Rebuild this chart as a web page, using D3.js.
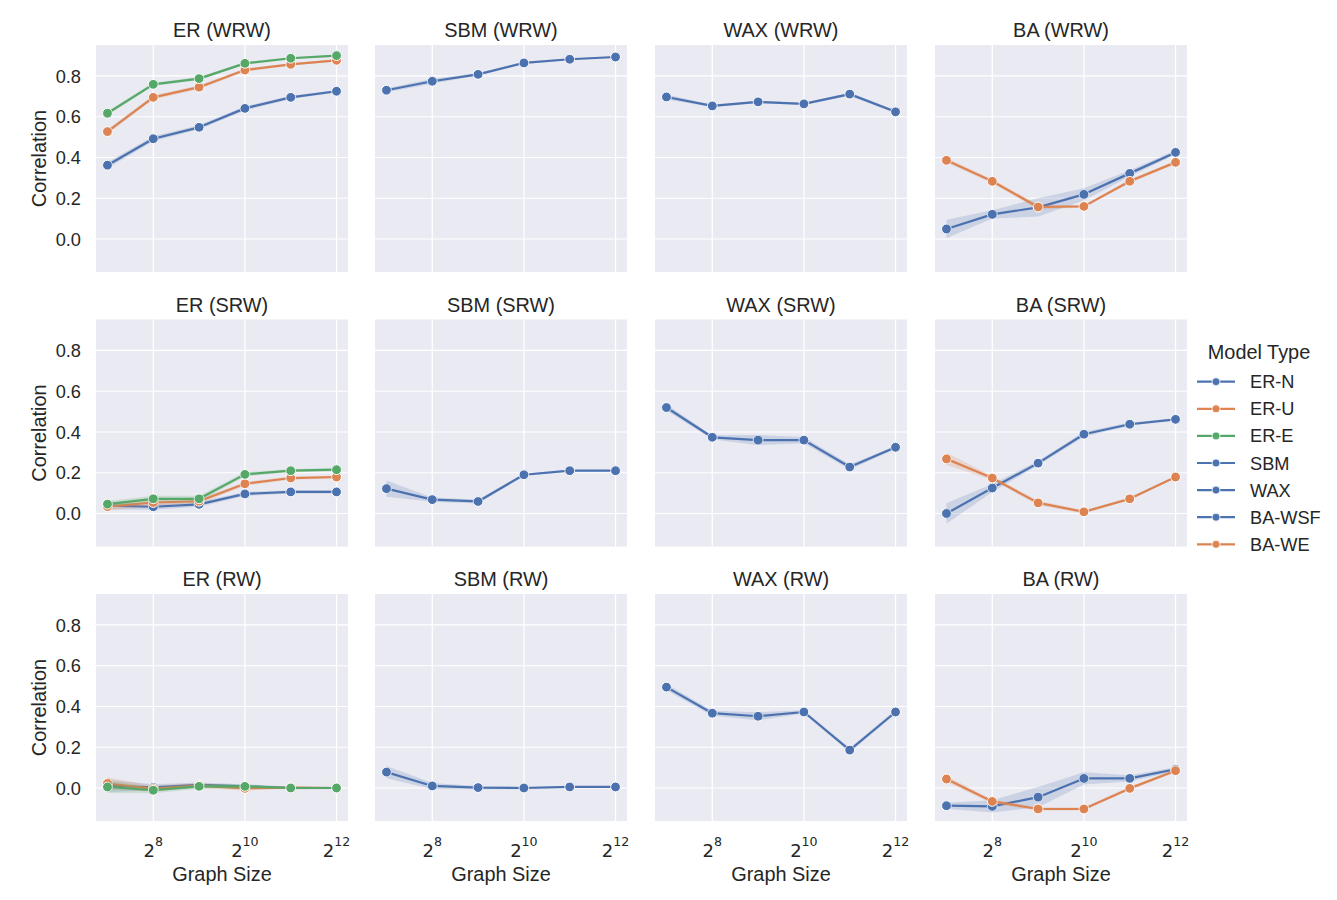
<!DOCTYPE html>
<html>
<head>
<meta charset="utf-8">
<script src="https://cdn.jsdelivr.net/npm/d3@7"></script>
<style>
  body { margin: 0; background: #ffffff; }
  svg { display: block; }
  text { font-family: "Liberation Sans", Arial, sans-serif; fill: #262626; }
</style>
</head>
<body>
<svg id="chart" width="1337" height="900"></svg>
<script>
// Graph sizes (x axis, log base 2)
const sizes = [128, 256, 512, 1024, 2048, 4096];
const walks = ['WRW', 'SRW', 'RW'];
const families = ['ER', 'SBM', 'WAX', 'BA'];
const yTicks = [0.0, 0.2, 0.4, 0.6, 0.8];
const xTickExps = [8, 10, 12];

// Mean correlation per model, one array per walk type
const erN = {
  WRW: [0.362, 0.492, 0.548, 0.641, 0.695, 0.725],
  SRW: [0.039, 0.033, 0.045, 0.096, 0.106, 0.106],
  RW:  [0.010, 0.003, 0.015, 0.008, 0.000, 0.000]
};
const erU = {
  WRW: [0.527, 0.695, 0.745, 0.829, 0.857, 0.877],
  SRW: [0.034, 0.054, 0.060, 0.146, 0.174, 0.179],
  RW:  [0.022, -0.004, 0.012, -0.002, 0.002, 0.000]
};
const erE = {
  WRW: [0.617, 0.759, 0.787, 0.862, 0.887, 0.900],
  SRW: [0.046, 0.072, 0.072, 0.192, 0.210, 0.215],
  RW:  [0.005, -0.011, 0.008, 0.008, 0.000, 0.000]
};
const sbm = {
  WRW: [0.730, 0.774, 0.808, 0.864, 0.882, 0.893],
  SRW: [0.122, 0.068, 0.059, 0.190, 0.210, 0.210],
  RW:  [0.078, 0.010, 0.002, 0.000, 0.005, 0.005]
};
const wax = {
  WRW: [0.697, 0.653, 0.673, 0.663, 0.711, 0.624],
  SRW: [0.520, 0.374, 0.360, 0.360, 0.228, 0.325],
  RW:  [0.495, 0.367, 0.352, 0.373, 0.186, 0.373]
};
const baWSF = {
  WRW: [0.049, 0.121, 0.155, 0.219, 0.322, 0.425],
  SRW: [0.000, 0.125, 0.247, 0.389, 0.438, 0.462],
  RW:  [-0.087, -0.090, -0.045, 0.047, 0.047, 0.092]
};
const baWE = {
  WRW: [0.386, 0.283, 0.157, 0.160, 0.283, 0.376],
  SRW: [0.268, 0.174, 0.052, 0.008, 0.072, 0.179],
  RW:  [0.044, -0.066, -0.103, -0.103, -0.002, 0.085]
};

// Half-width of the 95% confidence band
const erNci = {
  WRW: [0.015, 0.012, 0.010, 0.010, 0.008, 0.006],
  SRW: [0.020, 0.015, 0.012, 0.010, 0.008, 0.008],
  RW:  [0.030, 0.015, 0.012, 0.010, 0.006, 0.005]
};
const erUci = {
  WRW: [0.012, 0.010, 0.010, 0.008, 0.006, 0.005],
  SRW: [0.020, 0.015, 0.012, 0.010, 0.008, 0.008],
  RW:  [0.030, 0.015, 0.012, 0.010, 0.006, 0.005]
};
const erEci = {
  WRW: [0.010, 0.008, 0.008, 0.006, 0.005, 0.004],
  SRW: [0.015, 0.015, 0.015, 0.010, 0.008, 0.008],
  RW:  [0.030, 0.015, 0.012, 0.010, 0.006, 0.005]
};
const sbmCi = {
  WRW: [0.010, 0.012, 0.006, 0.005, 0.004, 0.004],
  SRW: [0.040, 0.010, 0.010, 0.006, 0.004, 0.004],
  RW:  [0.030, 0.015, 0.008, 0.006, 0.004, 0.004]
};
const waxCi = {
  WRW: [0.012, 0.006, 0.006, 0.006, 0.008, 0.008],
  SRW: [0.015, 0.010, 0.025, 0.015, 0.012, 0.008],
  RW:  [0.015, 0.012, 0.020, 0.008, 0.010, 0.010]
};
const baWSFci = {
  WRW: [0.045, 0.020, 0.045, 0.030, 0.015, 0.010],
  SRW: [0.050, 0.020, 0.010, 0.012, 0.008, 0.006],
  RW:  [0.015, 0.030, 0.050, 0.030, 0.015, 0.010]
};
const baWEci = {
  WRW: [0.012, 0.010, 0.012, 0.006, 0.010, 0.008],
  SRW: [0.030, 0.010, 0.012, 0.008, 0.006, 0.006],
  RW:  [0.015, 0.010, 0.008, 0.008, 0.008, 0.008]
};

const BLUE = '#4c72b0', ORANGE = '#dd8452', GREEN = '#55a868';

// Legend order = hue order
const models = [
  { name: 'ER-N',   family: 'ER',  color: BLUE,   values: erN,   ci: erNci },
  { name: 'ER-U',   family: 'ER',  color: ORANGE, values: erU,   ci: erUci },
  { name: 'ER-E',   family: 'ER',  color: GREEN,  values: erE,   ci: erEci },
  { name: 'SBM',    family: 'SBM', color: BLUE,   values: sbm,   ci: sbmCi },
  { name: 'WAX',    family: 'WAX', color: BLUE,   values: wax,   ci: waxCi },
  { name: 'BA-WSF', family: 'BA',  color: BLUE,   values: baWSF, ci: baWSFci },
  { name: 'BA-WE',  family: 'BA',  color: ORANGE, values: baWE,  ci: baWEci }
];

// Facet layout
const panelW = 252, panelH = 227;
const panelLeft = [96, 375, 655, 935];
const panelTop = [45, 319.5, 594];
const titleSize = '19.9px', tickSize = '18.2px';

const svg = d3.select('#chart');

const x = d3.scaleLog().base(2)
  .domain([Math.pow(2, 6.75), Math.pow(2, 12.25)])
  .range([0, panelW]);
const y = d3.scaleLinear()
  .domain([-0.162, 0.952])
  .range([panelH, 0]);

const line = d3.line()
  .x((d, i) => x(sizes[i]))
  .y(d => y(d));

const band = d3.area()
  .x(d => x(d.size))
  .y0(d => y(d.lo))
  .y1(d => y(d.hi));

walks.forEach((walk, r) => {
  families.forEach((fam, c) => {
    const g = svg.append('g')
      .attr('transform', `translate(${panelLeft[c]},${panelTop[r]})`);

    // Panel background
    g.append('rect')
      .attr('width', panelW)
      .attr('height', panelH)
      .attr('fill', '#eaeaf2');

    // Grid
    g.selectAll('line.ygrid')
      .data(yTicks)
      .join('line')
      .attr('class', 'ygrid')
      .attr('x1', 0).attr('x2', panelW)
      .attr('y1', d => y(d)).attr('y2', d => y(d))
      .attr('stroke', '#ffffff')
      .attr('stroke-width', 1.2);

    g.selectAll('line.xgrid')
      .data(xTickExps)
      .join('line')
      .attr('class', 'xgrid')
      .attr('x1', d => x(Math.pow(2, d))).attr('x2', d => x(Math.pow(2, d)))
      .attr('y1', 0).attr('y2', panelH)
      .attr('stroke', '#ffffff')
      .attr('stroke-width', 1.2);

    // Title
    g.append('text')
      .attr('x', panelW / 2)
      .attr('y', -8)
      .attr('text-anchor', 'middle')
      .style('font-size', titleSize)
      .text(`${fam} (${walk})`);

    // Series: line + markers, then band, in hue order
    models.filter(m => m.family === fam).forEach(m => {
      const vals = m.values[walk];
      const ci = m.ci[walk];
      const bandData = vals.map((v, i) => ({ size: sizes[i], lo: v - ci[i], hi: v + ci[i] }));

      g.append('path')
        .attr('d', line(vals))
        .attr('fill', 'none')
        .attr('stroke', m.color)
        .attr('stroke-width', 2.2)
        .attr('stroke-linejoin', 'round')
        .attr('stroke-linecap', 'round');

      g.selectAll(null)
        .data(vals)
        .join('circle')
        .attr('cx', (d, i) => x(sizes[i]))
        .attr('cy', d => y(d))
        .attr('r', 4.9)
        .attr('fill', m.color)
        .attr('stroke', '#ffffff')
        .attr('stroke-width', 1);

      g.append('path')
        .attr('d', band(bandData))
        .attr('fill', m.color)
        .attr('fill-opacity', 0.2)
        .attr('stroke', 'none');
    });

    // Y tick labels on first column
    if (c === 0) {
      g.selectAll('text.ytick')
        .data(yTicks)
        .join('text')
        .attr('class', 'ytick')
        .attr('x', -15)
        .attr('y', d => y(d))
        .attr('dy', '0.36em')
        .attr('text-anchor', 'end')
        .style('font-size', tickSize)
        .text(d => d.toFixed(1));

      g.append('text')
        .attr('transform', `translate(${-50},${panelH / 2}) rotate(-90)`)
        .attr('text-anchor', 'middle')
        .style('font-size', titleSize)
        .text('Correlation');
    }

    // X tick labels on bottom row
    if (r === walks.length - 1) {
      const ticks = g.selectAll('text.xtick')
        .data(xTickExps)
        .join('text')
        .attr('class', 'xtick')
        .attr('x', d => x(Math.pow(2, d)))
        .attr('y', panelH + 36)
        .attr('text-anchor', 'middle')
        .style('font-family', '"DejaVu Sans", sans-serif')
        .style('font-size', '18px');
      ticks.append('tspan').text('2');
      ticks.append('tspan')
        .attr('dy', '-0.85em')
        .style('font-size', '12.6px')
        .text(d => d);

      g.append('text')
        .attr('x', panelW / 2)
        .attr('y', panelH + 60)
        .attr('text-anchor', 'middle')
        .style('font-size', titleSize)
        .text('Graph Size');
    }
  });
});

// Legend
const legend = svg.append('g').attr('transform', 'translate(1197,0)');
legend.append('text')
  .attr('x', 62)
  .attr('y', 359)
  .attr('text-anchor', 'middle')
  .style('font-size', titleSize)
  .text('Model Type');

const rows = legend.selectAll('g.entry')
  .data(models)
  .join('g')
  .attr('class', 'entry')
  .attr('transform', (d, i) => `translate(0,${381.7 + i * 27.1})`);

rows.append('line')
  .attr('x1', 0).attr('x2', 38)
  .attr('stroke', d => d.color)
  .attr('stroke-width', 2.2);
rows.append('circle')
  .attr('cx', 19)
  .attr('r', 4)
  .attr('fill', d => d.color)
  .attr('stroke', '#ffffff')
  .attr('stroke-width', 0.8);
rows.append('text')
  .attr('x', 53)
  .attr('dy', '0.36em')
  .style('font-size', tickSize)
  .text(d => d.name);
</script>
</body>
</html>
